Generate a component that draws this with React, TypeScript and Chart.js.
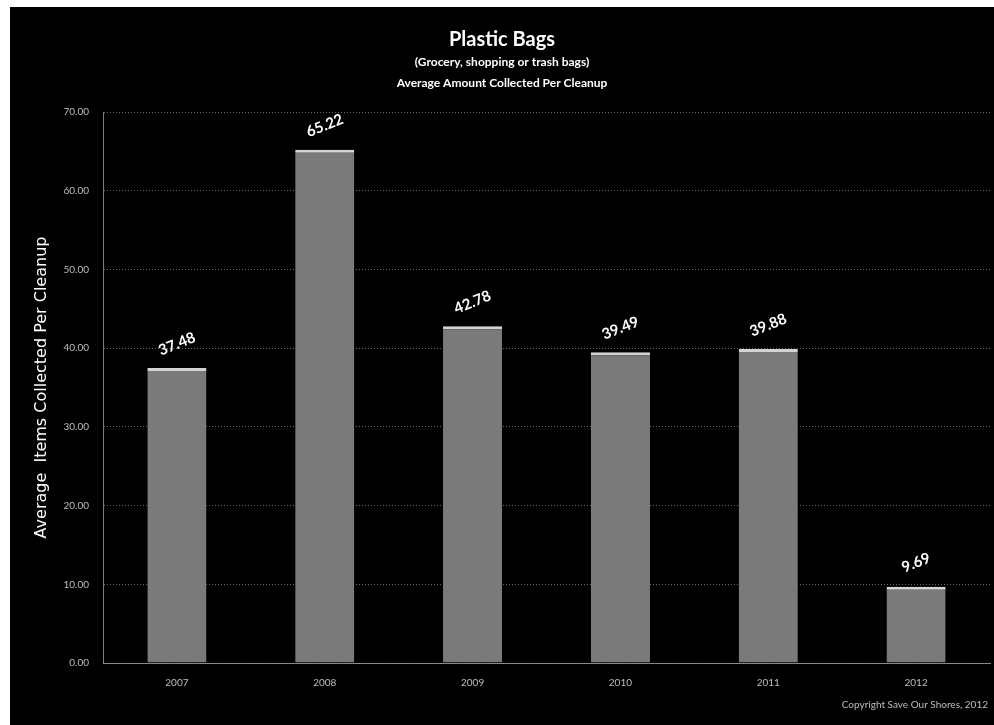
import React, { useEffect, useRef } from "react";
import { Chart, registerables } from "chart.js";

Chart.register(...registerables);

const categories = ["2007", "2008", "2009", "2010", "2011", "2012"];
const values = [37.48, 65.22, 42.78, 39.49, 39.88, 9.69];
const valueLabels = ["37.48", "65.22", "42.78", "39.49", "39.88", "9.69"];
const titleLines = ["Plastic Bags", "(Grocery, shopping or trash bags)", "Average Amount Collected Per Cleanup"];
const yAxisTitle = "Average  Items Collected Per Cleanup";
const copyright = "Copyright Save Our Shores, 2012";

const FONT = "Lato, 'Open Sans', sans-serif";

const textPlugin = {
  id: "texts",
  afterDatasetsDraw(chart: any) {
    const ctx = chart.ctx;
    const w = chart.width;
    ctx.save();
    ctx.fillStyle = "#ffffff";
    ctx.textAlign = "center";
    ctx.textBaseline = "middle";
    ctx.font = `bold 20px ${FONT}`;
    ctx.fillText(titleLines[0], 492, 33);
    ctx.font = `bold 12px ${FONT}`;
    ctx.fillText(titleLines[1], 492, 55);
    ctx.fillText(titleLines[2], 492, 76);

    ctx.fillStyle = "#bdbdbd";
    ctx.font = `10px ${FONT}`;
    ctx.textAlign = "right";
    ctx.fillText(copyright, w - 6, 698);

    const meta = chart.getDatasetMeta(0);
    ctx.fillStyle = "#ffffff";
    ctx.font = `bold 15px ${FONT}`;
    ctx.textAlign = "center";
    meta.data.forEach((bar: any, i: number) => {
      ctx.save();
      ctx.translate(bar.x, bar.y - 24);
      ctx.rotate(-22 * Math.PI / 180);
      ctx.fillText(valueLabels[i], 0, 0);
      ctx.restore();
    });
    ctx.restore();
  },
};

export default function App() {
  const ref = useRef<HTMLCanvasElement>(null);
  useEffect(() => {
    document.body.style.margin = "0";
    const chart = new Chart(ref.current!, {
      type: "bar",
      data: {
        labels: categories,
        datasets: [
          {
            data: values,
            backgroundColor: "#7a7a7a",
            borderColor: "#d4d4d4",
            borderWidth: { top: 3, left: 0, right: 0, bottom: 0 },
            borderSkipped: "bottom",
            categoryPercentage: 0.8,
            barPercentage: 0.5,
          },
        ],
      },
      options: {
        animation: false,
        responsive: false,
        maintainAspectRatio: false,
        layout: { padding: { top: 105, right: 4, left: 0, bottom: 0 } },
        plugins: { legend: { display: false }, title: { display: false }, tooltip: { enabled: false } },
        scales: {
          x: {
            grid: { display: false, drawTicks: false },
            border: { display: true, color: "rgba(180,180,180,0.7)", dash: [1, 2] },
            ticks: { color: "#bdbdbd", font: { size: 10, family: FONT }, padding: 14 },
            afterFit(scale: any) { scale.height = 62; },
          },
          y: {
            min: 0,
            max: 70,
            grid: { color: "rgba(170,170,170,0.6)", drawTicks: false },
            border: { display: true, color: "rgba(180,180,180,0.7)", dash: [1, 2] },
            ticks: {
              stepSize: 10,
              color: "#bdbdbd",
              font: { size: 10, family: FONT },
              padding: 14,
              callback: (v: any) => Number(v).toFixed(2),
            },
            title: {
              display: true,
              text: yAxisTitle,
              color: "#ffffff",
              font: { size: 16, family: "'DejaVu Sans', sans-serif" },
              padding: { top: 22, bottom: 0 },
            },
            afterFit(scale: any) { scale.width = 93; },
          },
        },
      },
      plugins: [textPlugin],
    } as any);
    (chart.options.scales as any).y.grid.borderDash = [1, 2];
    chart.update();
    return () => chart.destroy();
  }, []);
  return (
    <div style={{ position: "absolute", left: 0, top: 0, width: 994, height: 725, background: "#ffffff" }}>
      <div style={{ position: "absolute", left: 10, top: 7, width: 984, height: 718, background: "#000000" }}>
        <canvas ref={ref} width={984} height={718} style={{ width: 984, height: 718 }} />
      </div>
    </div>
  );
}
